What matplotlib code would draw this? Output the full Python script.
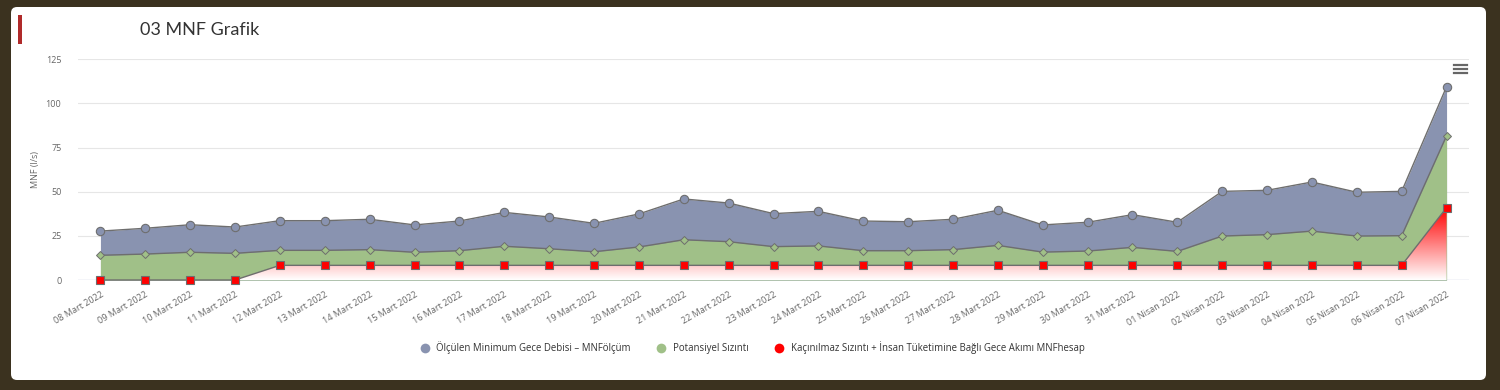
import matplotlib
matplotlib.use("Agg")
import matplotlib.pyplot as plt
import numpy as np
from matplotlib.patches import FancyBboxPatch, Rectangle
from matplotlib.lines import Line2D

dates = [
    "08 Mart 2022", "09 Mart 2022", "10 Mart 2022", "11 Mart 2022", "12 Mart 2022",
    "13 Mart 2022", "14 Mart 2022", "15 Mart 2022", "16 Mart 2022", "17 Mart 2022",
    "18 Mart 2022", "19 Mart 2022", "20 Mart 2022", "21 Mart 2022", "22 Mart 2022",
    "23 Mart 2022", "24 Mart 2022", "25 Mart 2022", "26 Mart 2022", "27 Mart 2022",
    "28 Mart 2022", "29 Mart 2022", "30 Mart 2022", "31 Mart 2022", "01 Nisan 2022",
    "02 Nisan 2022", "03 Nisan 2022", "04 Nisan 2022", "05 Nisan 2022", "06 Nisan 2022",
    "07 Nisan 2022",
]
mnf_olcum = [27.7, 29.3, 31.3, 30.0, 33.6, 33.6, 34.4, 31.2, 33.4, 38.3, 35.7,
             32.1, 37.4, 45.9, 43.6, 37.6, 38.9, 33.4, 33.0, 34.4, 39.5, 31.2,
             32.7, 37.0, 32.7, 50.2, 50.8, 55.5, 49.7, 50.2, 109.5]
potansiyel = [14.0, 14.7, 15.7, 15.1, 16.8, 16.8, 17.2, 15.7, 16.6, 19.1, 17.7,
              16.0, 18.7, 22.8, 21.7, 18.9, 19.3, 16.6, 16.6, 17.2, 19.6, 15.8,
              16.4, 18.5, 16.2, 24.9, 25.7, 27.7, 24.9, 25.1, 81.7]
mnf_hesap = [0, 0, 0, 0, 8.3, 8.3, 8.3, 8.3, 8.3, 8.3, 8.3, 8.3, 8.3, 8.3, 8.3,
             8.3, 8.3, 8.3, 8.3, 8.3, 8.3, 8.3, 8.3, 8.3, 8.3, 8.3, 8.3, 8.3,
             8.3, 8.3, 41.0]
series_names = [
    "Ölçülen Minimum Gece Debisi – MNFölçüm",
    "Potansiyel Sızıntı",
    "Kaçınılmaz Sızıntı + İnsan Tüketimine Bağlı Gece Akımı MNFhesap",
]
yticks = [0, 25, 50, 75, 100, 125]

BLUE = "#8993b0"
GREEN = "#a0c088"
RED = "#ff0000"
LINE = "#6e6e6e"
W, H = 1500, 390

fig = plt.figure(figsize=(15, 3.9), dpi=100, facecolor="#3b321f")

# white card
fig.add_artist(FancyBboxPatch((11 / W, 10 / H), 1475 / W, 373 / H,
                              boxstyle="round,pad=0,rounding_size=0.004",
                              mutation_aspect=W / H, transform=fig.transFigure,
                              facecolor="white", edgecolor="none", zorder=0))
# red accent bar + title
fig.add_artist(Rectangle((18 / W, 1 - 44 / H), 4 / W, 29 / H,
                         transform=fig.transFigure, facecolor="#b02a2a",
                         edgecolor="none"))
fig.text(140 / W, 1 - 30 / H, "03 MNF Grafik", family=["Lato", "DejaVu Sans"],
         fontsize=13, color="#333333", va="center", ha="left")

# menu icon
for yy in (65, 69, 73):
    fig.add_artist(Line2D([1454 / W, 1467 / W], [1 - yy / H, 1 - yy / H],
                          transform=fig.transFigure, color="#666666", lw=1.6))

ax = fig.add_axes([78 / W, 1 - 280 / H, 1391 / W, 220.7 / H])
ax.set_facecolor("white")
ax.set_axisbelow(True)
x = np.arange(len(dates))

ax.fill_between(x, 0, mnf_olcum, color=BLUE, lw=0, zorder=1)
ax.plot(x, mnf_olcum, color=LINE, lw=1, marker="o", ms=6, mfc=BLUE,
        mec=LINE, mew=0.8, zorder=2, clip_on=False)

ax.fill_between(x, 0, potansiyel, color=GREEN, lw=0, zorder=3)
ax.plot(x, potansiyel, color=LINE, lw=1, marker="D", ms=4.2, mfc=GREEN,
        mec=LINE, mew=0.7, zorder=4, clip_on=False)

# red area: gradient from red at the top to white at zero
poly = ax.fill_between(x, 0, mnf_hesap, facecolor="none", edgecolor="none", zorder=5)
top = max(mnf_hesap)
t = np.linspace(0, 1, 256)
grad = np.ones((256, 1, 4))
grad[:, 0, 1] = 1 - t
grad[:, 0, 2] = 1 - t
im = ax.imshow(grad, extent=[x[0], x[-1], 0, top], origin="lower",
               aspect="auto", zorder=5, interpolation="bilinear")
im.set_clip_path(poly.get_paths()[0], transform=ax.transData)
ax.plot(x, mnf_hesap, color=LINE, lw=1, marker="s", ms=6, mfc=RED,
        mec=LINE, mew=0.8, zorder=6, clip_on=False)

ax.set_xlim(-0.5, len(dates) - 0.5)
ax.set_ylim(0, 125)
ax.set_yticks(yticks)
ax.set_xticks(x)
ax.set_xticklabels(dates, rotation=30, ha="right", rotation_mode="anchor")
ax.grid(axis="y", color="#e6e6e6", lw=0.8)
ax.axhline(0, color="#ccd6eb", lw=1, zorder=0.5)
for s in ax.spines.values():
    s.set_visible(False)
ax.tick_params(axis="y", length=0, pad=12, labelsize=6.5, labelcolor="#666666")
ax.tick_params(axis="x", length=0, pad=7, labelsize=6.5, labelcolor="#666666")
for lab in ax.get_xticklabels() + ax.get_yticklabels():
    lab.set_family(["Open Sans", "DejaVu Sans"])
ax.set_ylabel("MNF (l/s)", fontsize=6.5, color="#666666", labelpad=4,
              family=["Open Sans", "DejaVu Sans"])

handles = [Line2D([], [], ls="none", marker="o", ms=7, mfc=c, mec="none")
           for c in (BLUE, GREEN, RED)]
fig.legend(handles, series_names, loc="center", bbox_to_anchor=(0.5, 1 - 348 / H),
           ncol=3, frameon=False, handletextpad=0.2, columnspacing=2.2,
           labelcolor="#333333",
           prop={"family": ["Open Sans", "DejaVu Sans"], "size": 6.9})

fig.savefig("out.png", dpi=100, facecolor=fig.get_facecolor())
